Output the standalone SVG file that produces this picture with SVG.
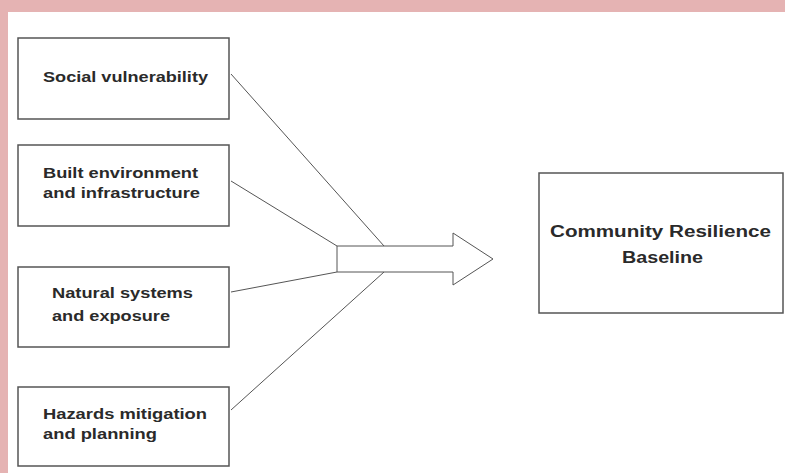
<svg xmlns="http://www.w3.org/2000/svg" width="785" height="473" viewBox="0 0 785 473">
<style>
.box{fill:#fff;stroke:#555;stroke-width:1.5}
.t{font-family:"Liberation Sans",Arial,sans-serif;font-weight:bold;font-size:15px;fill:#2a2a2a}
.b{font-size:16px}
.c{fill:none;stroke:#555;stroke-width:1}
</style>
<rect x="0" y="0" width="785" height="473" fill="#fff"/>
<rect x="0" y="0" width="785" height="12" fill="#e5b3b3"/>
<rect x="0" y="0" width="8" height="473" fill="#e5b3b3"/>
<g id="n1"><rect class="box" x="18" y="38" width="211" height="81"/><text class="t" x="43" y="82" textLength="165" lengthAdjust="spacingAndGlyphs">Social vulnerability</text></g>
<g id="n2"><rect class="box" x="18" y="145" width="211" height="81"/><text class="t" x="43" y="178" textLength="155" lengthAdjust="spacingAndGlyphs">Built environment</text><text class="t" x="43" y="198" textLength="157" lengthAdjust="spacingAndGlyphs">and infrastructure</text></g>
<g id="n3"><rect class="box" x="18" y="267" width="211" height="80"/><text class="t" x="52" y="298" textLength="141" lengthAdjust="spacingAndGlyphs">Natural systems</text><text class="t" x="52" y="321" textLength="118" lengthAdjust="spacingAndGlyphs">and exposure</text></g>
<g id="n4"><rect class="box" x="18" y="387" width="211" height="79"/><text class="t" x="43" y="419" textLength="164" lengthAdjust="spacingAndGlyphs">Hazards mitigation</text><text class="t" x="43" y="439" textLength="114" lengthAdjust="spacingAndGlyphs">and planning</text></g>
<g id="n5"><rect class="box" x="539" y="173" width="244" height="140"/><text class="t b" x="550" y="237" textLength="221" lengthAdjust="spacingAndGlyphs">Community Resilience</text><text class="t b" x="622" y="263" textLength="81" lengthAdjust="spacingAndGlyphs">Baseline</text></g>
<g id="arrow"><path class="c" d="M337,246 H453 V233 L493,259 L453,285 V272 H337 Z"/></g>
<g id="connectors">
<line class="c" x1="231" y1="74" x2="384" y2="246"/>
<line class="c" x1="231" y1="181" x2="337" y2="246"/>
<line class="c" x1="231" y1="292" x2="337" y2="272"/>
<line class="c" x1="231" y1="410" x2="384" y2="272"/>
</g>
</svg>
